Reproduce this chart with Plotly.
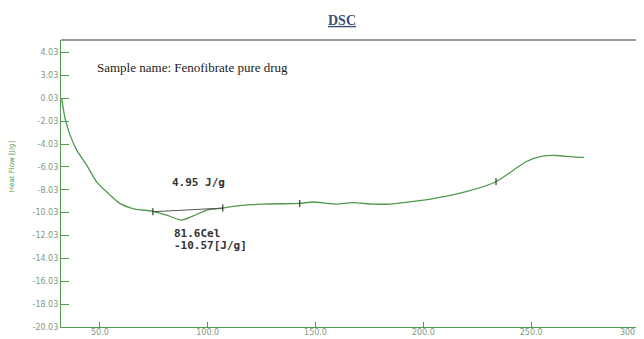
import plotly.graph_objects as go

# DSC curve: temperature (°C) vs heat flow (J/g)
temp = [32.3, 33.9, 36.2, 39.3, 43.9, 48.5, 53.9, 59.3, 66.3, 74.0, 80.9, 87.9, 93.1, 99.5,
        107.0, 110.2, 125.7, 142.7, 148.7, 159.6, 167.2, 176.6, 184.3, 193.6, 202.8, 219.8,
        233.7, 247.6, 255.2, 261.5, 269.0, 274.6]
heat = [-0.02, -1.77, -3.22, -4.53, -5.84, -7.30, -8.31, -9.19, -9.69, -9.86, -10.21, -10.65,
        -10.30, -9.77, -9.60, -9.49, -9.25, -9.19, -9.07, -9.25, -9.13, -9.25, -9.25, -9.05,
        -8.84, -8.17, -7.30, -5.55, -5.06, -5.00, -5.12, -5.17]

# peak integration baseline
base_x = [74.6, 107.0]
base_y = [-9.92, -9.60]

# analysis markers on the curve
mark_x = [74.6, 107.0, 142.7, 233.7]
mark_y = [-9.92, -9.60, -9.19, -7.30]

y_tickvals = [4, 2, 0, -2, -4, -6, -8, -10, -12, -14, -16, -18, -20]
y_ticktext = ["4.03", "3.03", "0.03", "-2.03", "-4.03", "-6.03", "-8.03", "-10.03",
              "-12.03", "-14.03", "-16.03", "-18.03", "-20.03"]
x_tickvals = [50, 100, 150, 200, 250, 300]
x_ticktext = ["50.0", "100.0", "150.0", "200.0", "250.0",
              "300" + "\u00a0" * 9]  # nbsp padding keeps the edge label on the page

green = "#4e9a4e"
tickcol = "#7f9a7f"

W, H = 636, 331  # page body has an 8px margin

fig = go.Figure()
fig.add_trace(go.Scatter(x=temp, y=heat, mode="lines",
                         line=dict(color=green, width=1.3, shape="spline", smoothing=0.6),
                         showlegend=False, hoverinfo="skip"))
fig.add_trace(go.Scatter(x=base_x, y=base_y, mode="lines",
                         line=dict(color="#555555", width=1),
                         showlegend=False, hoverinfo="skip"))
fig.add_trace(go.Scatter(x=mark_x, y=mark_y, mode="markers",
                         marker=dict(symbol="line-ns-open", size=5, color="#333333",
                                     line=dict(width=1.2, color="#333333")),
                         showlegend=False, hoverinfo="skip"))

fig.update_layout(
    width=W, height=H,
    margin=dict(l=53, r=5, t=32, b=12),
    paper_bgcolor="white", plot_bgcolor="white",
    title=dict(text="<b>DSC</b>", x=(342 - 8) / W, xref="container", xanchor="center",
               y=1 - (20 - 8) / H, yref="container", yanchor="middle",
               font=dict(family="Liberation Serif", size=14, color="#3d4f73",
                         lineposition="under")),
    xaxis=dict(range=[32, 300], tickvals=x_tickvals, ticktext=x_ticktext,
               ticks="inside", ticklen=5, tickcolor=green, tickwidth=1.2,
               showline=True, linecolor=green, linewidth=1.2, mirror=False,
               showgrid=False, zeroline=False, automargin=False,
               ticklabelstandoff=-3, ticklabeloverflow="allow",
               tickfont=dict(family="DejaVu Sans", size=8, color=tickcol)),
    yaxis=dict(range=[-20, 5.1], tickvals=y_tickvals, ticktext=y_ticktext,
               ticks="inside", ticklen=8, tickcolor=green, tickwidth=1,
               showline=True, linecolor=green, linewidth=1.2,
               showgrid=False, zeroline=False, automargin=False,
               tickfont=dict(family="DejaVu Sans", size=8, color=tickcol)),
    shapes=[
        dict(type="line", xref="paper", yref="paper", x0=0, x1=1, y0=1, y1=1,
             line=dict(color="#777777", width=1.5)),
        dict(type="line", xref="paper", yref="paper", x0=1, x1=1, y0=0, y1=1,
             line=dict(color="#777777", width=1.5)),
    ],
    annotations=[
        dict(text="Sample name: Fenofibrate pure drug", x=47.7, y=2.71, xref="x", yref="y",
             xanchor="left", yanchor="middle", showarrow=False,
             font=dict(family="Liberation Serif", size=13, color="#222222")),
        dict(text="<b>4.95 J/g</b>", x=95.9, y=-7.33, xref="x", yref="y",
             xanchor="center", yanchor="middle", showarrow=False,
             font=dict(family="DejaVu Sans Mono", size=11, color="#333333")),
        dict(text="<b>81.6Cel</b>", x=83.4, y=-11.78, xref="x", yref="y",
             xanchor="left", yanchor="middle", showarrow=False,
             font=dict(family="DejaVu Sans Mono", size=11, color="#333333")),
        dict(text="<b>-10.57[J/g]</b>", x=83.4, y=-12.83, xref="x", yref="y",
             xanchor="left", yanchor="middle", showarrow=False,
             font=dict(family="DejaVu Sans Mono", size=11, color="#333333")),
        dict(text="Heat Flow [J/g]", x=-0.085, y=0.56, xref="paper", yref="paper",
             textangle=-90, xanchor="center", yanchor="middle", showarrow=False,
             font=dict(family="DejaVu Sans", size=7, color=green)),
    ],
)

fig.write_html("out.html")
